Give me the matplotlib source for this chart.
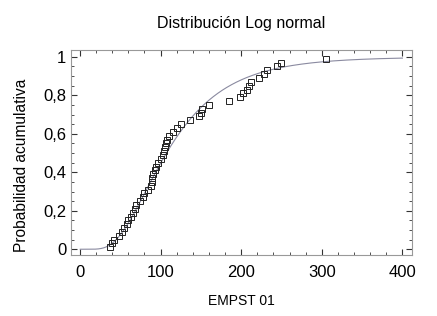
import numpy as np
import matplotlib
matplotlib.use("Agg")
import matplotlib.pyplot as plt
from matplotlib.ticker import MultipleLocator, FuncFormatter
from math import erf, sqrt

# empirical data (sorted values) and cumulative probabilities
values = [37, 40, 42, 48, 52, 55, 58, 60, 63, 66, 68, 70, 75, 78, 80, 85, 88, 89,
          90, 91, 93, 95, 97, 100, 103, 104, 105, 107, 108, 111, 115, 120, 125,
          137, 148, 150, 152, 160, 185, 198, 202, 207, 210, 212, 222, 228, 232,
          245, 250, 305]
n = len(values)
probs = [(i + 0.5) / n for i in range(n)]

title = "Distribución Log normal"
xlabel = "EMPST 01"
ylabel = "Probabilidad acumulativa"

# fitted lognormal parameters
logs = np.log(values)
mu = logs.mean()
sigma = logs.std()
xc = np.linspace(0.5, 400, 800)
yc = np.array([0.5 * (1 + erf((np.log(v) - mu) / (sigma * sqrt(2)))) for v in xc])

plt.rcParams['font.family'] = ['Liberation Sans', 'DejaVu Sans']
fig = plt.figure(figsize=(4.37, 3.16), dpi=100)
ax = fig.add_axes([0.1625, 0.193, 0.943 - 0.1625, 0.842 - 0.193])
ax.plot(xc, yc, color='#8a8aa0', lw=0.8)
ax.plot(values, probs, linestyle='none', marker='s', markersize=3.7,
        markerfacecolor='none', markeredgecolor='#222222', markeredgewidth=0.7)
ax.set_xlim(-11, 412)
ax.set_ylim(-0.03, 1.036)
ax.xaxis.set_major_locator(MultipleLocator(100))
ax.xaxis.set_minor_locator(MultipleLocator(20))
ax.yaxis.set_major_locator(MultipleLocator(0.2))
ax.yaxis.set_minor_locator(MultipleLocator(0.05))
ax.yaxis.set_major_formatter(FuncFormatter(lambda v, p: ('%g' % round(v, 2)).replace('.', ',')))
ax.tick_params(which='both', direction='in', top=True, right=True, labelsize=12, color='#333333')
ax.tick_params(axis='x', which='major', pad=7)
ax.tick_params(which='major', length=4, width=0.8)
ax.tick_params(which='minor', length=2, width=0.6)
for s in ax.spines.values():
    s.set_color('#999999')
    s.set_linewidth(0.8)
ax.set_title(title, fontsize=11.5, pad=16)
ax.set_xlabel(xlabel, fontsize=10, labelpad=10)
fig.text(22 / 437, 1 - 165 / 316, ylabel, rotation=90, ha='center', va='center', fontsize=11.2)
fig.savefig("out.png", dpi=100)
